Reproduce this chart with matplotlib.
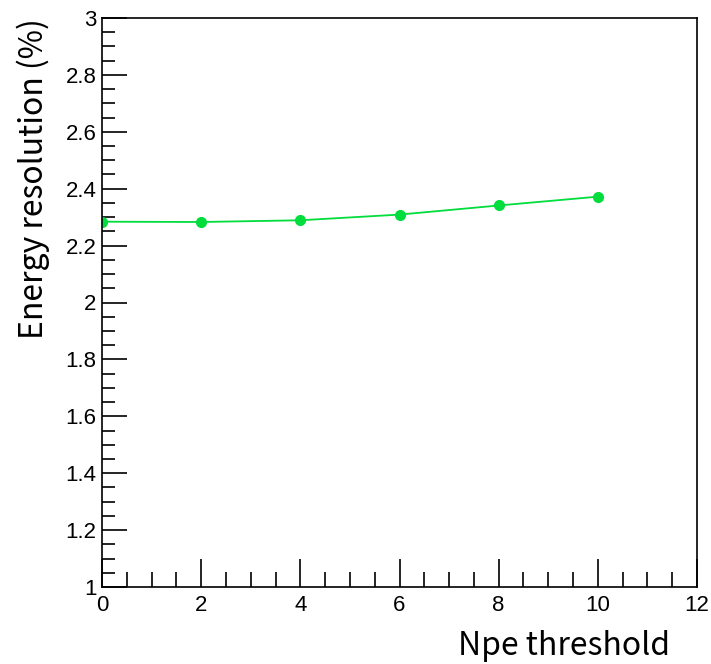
import numpy as np
import matplotlib
matplotlib.use("Agg")
from matplotlib import pyplot as plt
from matplotlib.ticker import MultipleLocator

# Resolucao em energia em funcao do limiar de Npe
npe_limiar = [0, 2, 4, 6, 8, 10]
resolucao = [2.284, 2.283, 2.289, 2.309, 2.341, 2.372]
erro = [0.004, 0.003, 0.004, 0.007, 0.005, 0.008]

verde = '#00dd3c'
fonte_titulo = ['Noto Sans CJK KR', 'DejaVu Sans']

fig = plt.figure(figsize=(7.11, 6.64), dpi=100)
ax = fig.add_axes([102/711, 1 - 587/664, (697 - 102)/711, (587 - 18)/664])

ax.errorbar(npe_limiar, resolucao, yerr=erro, color=verde, marker='o',
            markersize=7, linewidth=1.3, elinewidth=1.3, capsize=0)

ax.set_xlim(0, 12)
ax.set_ylim(1, 3)

# Marcas estilo ROOT: para dentro, so em baixo e a esquerda
ax.xaxis.set_major_locator(MultipleLocator(2))
ax.xaxis.set_minor_locator(MultipleLocator(0.5))
ax.yaxis.set_major_locator(MultipleLocator(0.2))
ax.yaxis.set_minor_locator(MultipleLocator(0.05))
ax.tick_params(which='both', direction='in', top=False, right=False, width=1.2)
ax.tick_params(axis='x', which='major', length=20, pad=6)
ax.tick_params(axis='x', which='minor', length=11)
ax.tick_params(axis='y', which='major', length=18, pad=4)
ax.tick_params(axis='y', which='minor', length=9)
for lab in ax.get_xticklabels() + ax.get_yticklabels():
    lab.set_family('Liberation Sans')
    lab.set_fontsize(16)

ax.yaxis.set_major_formatter(matplotlib.ticker.FuncFormatter(lambda v, p: ('%g' % v)))

for s in ax.spines.values():
    s.set_linewidth(1.2)

ax.set_xlabel('Npe threshold', family=fonte_titulo, fontsize=23, loc='right')
ax.set_ylabel('Energy resolution (%)', family=fonte_titulo, fontsize=23, loc='top')
ax.xaxis.set_label_coords(0.955, -0.075)
ax.yaxis.set_label_coords(-0.088, 1.0)

fig.savefig('out.png', dpi=100)
